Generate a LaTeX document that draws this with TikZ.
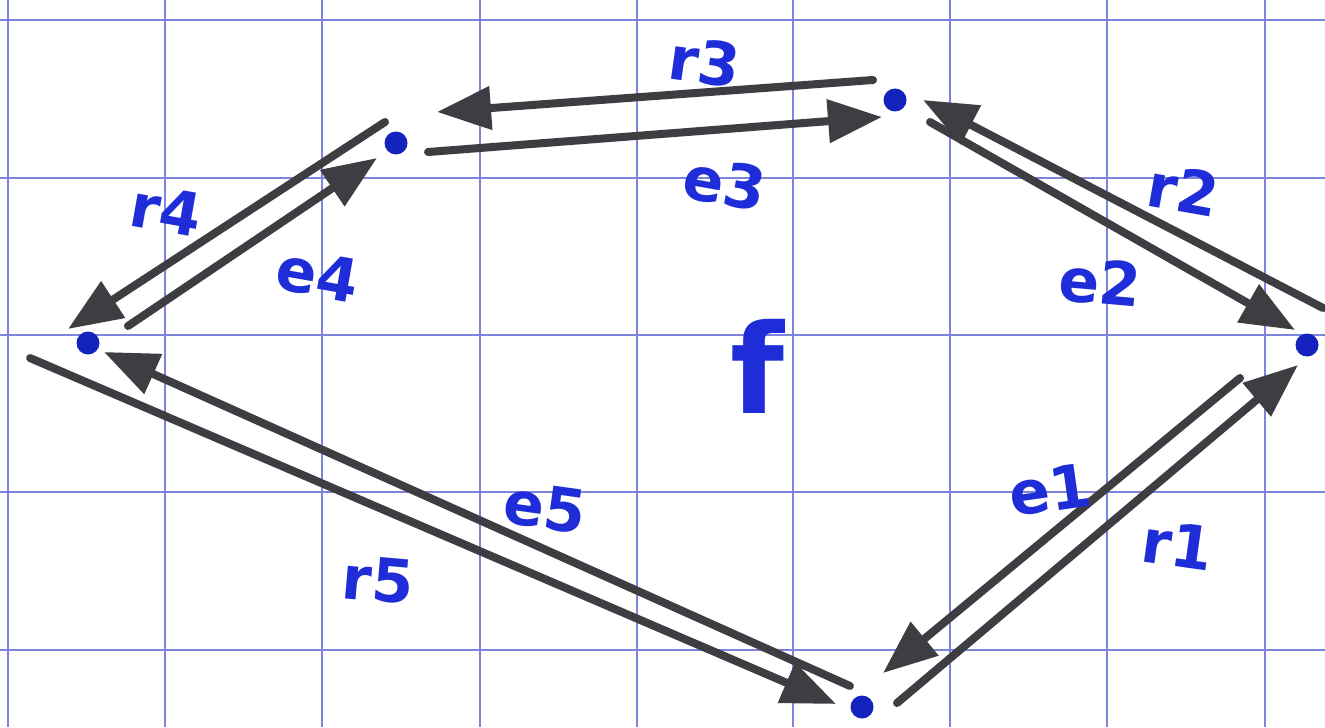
\documentclass[tikz,border=0pt]{standalone}
\usepackage{fontspec}
\setmainfont{DejaVu Sans}
\usetikzlibrary{arrows.meta}
\definecolor{gridblue}{RGB}{125,132,222}
\definecolor{inkblue}{RGB}{30,45,215}
\definecolor{dotblue}{RGB}{20,35,190}
\definecolor{pencil}{RGB}{62,62,66}
\tikzset{
  gridline/.style={gridblue, line width=1pt},
  vtx/.style={circle, fill=dotblue, inner sep=0pt, minimum size=11.5pt},
  arc/.style={pencil, line width=4pt, line cap=round,
    -{Triangle[length=27pt,width=21pt]}},
  lbl/.style={inkblue, font=\bfseries\fontsize{30}{34}\selectfont, inner sep=0pt},
}
\begin{document}
\begin{tikzpicture}[x=0.5pt,y=-0.5pt]
\fill[white] (0,0) rectangle (1325,727);
\useasboundingbox (0,0) rectangle (1325,727);
% grid
\foreach \gx in {8,165,322,480,637,793,950,1107,1265}
  \draw[gridline] (\gx,0) -- (\gx,727);
\foreach \gy in {20,178,335,492,650}
  \draw[gridline] (0,\gy) -- (1325,\gy);
% vertices
\node[vtx] (A) at (396,143) {};
\node[vtx] (B) at (895,100) {};
\node[vtx] (C) at (1307,345) {};
\node[vtx] (D) at (88,343) {};
\node[vtx] (E) at (862,707) {};
% arrow end points
\coordinate (r3s) at (873,80);   \coordinate (r3t) at (437,112);
\coordinate (e3s) at (428,152);  \coordinate (e3t) at (882,117);
\coordinate (r2s) at (1323,308); \coordinate (r2t) at (923,100);
\coordinate (e2s) at (930,122);  \coordinate (e2t) at (1295,330);
\coordinate (r1s) at (897,703);  \coordinate (r1t) at (1298,365);
\coordinate (e1s) at (1240,378); \coordinate (e1t) at (883,673);
\coordinate (r4s) at (385,122);  \coordinate (r4t) at (68,329);
\coordinate (e4s) at (128,326);  \coordinate (e4t) at (377,158);
\coordinate (e5s) at (850,686);  \coordinate (e5t) at (104,352);
\coordinate (r5s) at (30,358);   \coordinate (r5t) at (836,704);
% arrows
\draw[arc] (r3s) -- (r3t);
\draw[arc] (e3s) -- (e3t);
\draw[arc] (r2s) -- (r2t);
\draw[arc] (e2s) -- (e2t);
\draw[arc] (r1s) -- (r1t);
\draw[arc] (e1s) -- (e1t);
\draw[arc] (r4s) -- (r4t);
\draw[arc] (e4s) -- (e4t);
\draw[arc] (e5s) -- (e5t);
\draw[arc] (r5s) -- (r5t);
% labels
\node[lbl, rotate=-8] (lr3) at (705,62) {r3};
\node[lbl, rotate=-10] (le3) at (725,183) {e3};
\node[lbl, rotate=-10] (lr2) at (1183,190) {r2};
\node[lbl, rotate=-5] (le2) at (1100,282) {e2};
\node[inkblue, font=\bfseries\fontsize{62}{70}\selectfont, inner sep=0pt] (lf) at (757,366) {f};
\node[lbl, rotate=8] (le1) at (1050,490) {e1};
\node[lbl, rotate=-8] (lr1) at (1178,545) {r1};
\node[lbl, rotate=-10] (lr4) at (166,210) {r4};
\node[lbl, rotate=-10] (le4) at (318,275) {e4};
\node[lbl, rotate=-8] (le5) at (545,507) {e5};
\node[lbl, rotate=-5] (lr5) at (378,580) {r5};
\end{tikzpicture}
\end{document}
